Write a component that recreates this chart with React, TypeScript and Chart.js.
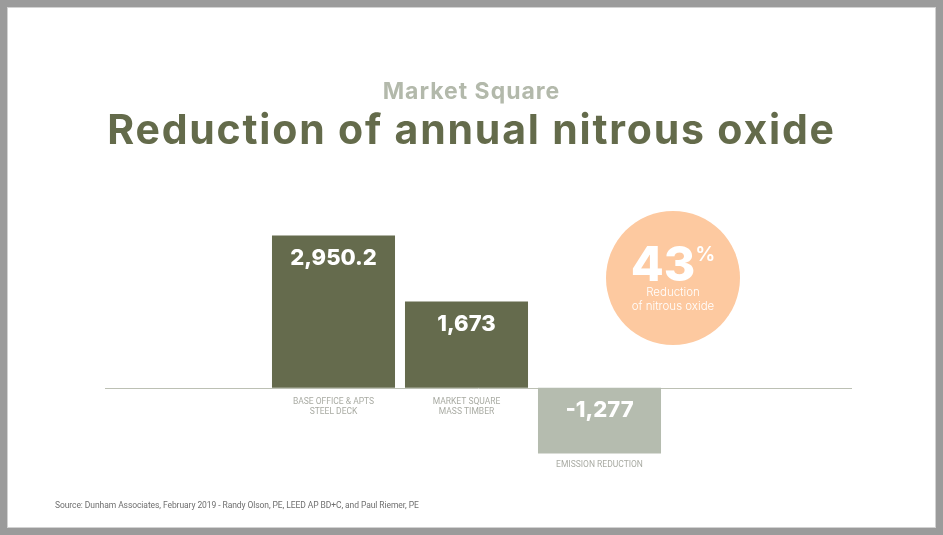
import React, { useEffect, useRef } from "react";
import { Chart, registerables } from "chart.js";

Chart.register(...registerables);

const categories: string[][] = [
  ["BASE OFFICE & APTS", "STEEL DECK"],
  ["MARKET SQUARE", "MASS TIMBER"],
  ["EMISSION REDUCTION"],
];
const values: number[] = [2950.2, 1673, -1277];
const valueLabels: string[] = ["2,950.2", "1,673", "-1,277"];
const barColors: string[] = ["#656b4d", "#656b4d", "#b5bcaf"];

const subtitleText = "Market Square";
const titleText = "Reduction of annual nitrous oxide";
const badgeValue = "43";
const badgeUnit = "%";
const badgeLines = ["Reduction", "of nitrous oxide"];
const sourceText =
  "Source: Dunham Associates, February 2019 - Randy Olson, PE, LEED AP BD+C, and Paul Riemer, PE";

const W = 943;
const H = 535;

const labelsPlugin = {
  id: "customLabels",
  beforeDatasetsDraw(chart: any) {
    const ctx = chart.ctx;
    const y0 = chart.scales.y.getPixelForValue(0);
    ctx.save();
    ctx.strokeStyle = "#bcc0b4";
    ctx.lineWidth = 1;
    ctx.beginPath();
    ctx.moveTo(105, Math.round(y0) + 0.5);
    ctx.lineTo(852, Math.round(y0) + 0.5);
    ctx.stroke();
    ctx.restore();
  },
  afterDatasetsDraw(chart: any) {
    const ctx = chart.ctx;
    const meta = chart.getDatasetMeta(0);
    ctx.save();
    meta.data.forEach((bar: any, i: number) => {
      const top = Math.min(bar.y, bar.base);
      const bottom = Math.max(bar.y, bar.base);
      ctx.fillStyle = "#ffffff";
      ctx.font = "800 22px Inter, 'Open Sans', sans-serif";
      ctx.textAlign = "center";
      ctx.textBaseline = "middle";
      ctx.fillText(valueLabels[i], bar.x, top + 23);
      ctx.fillStyle = "#a9aba3";
      ctx.font = "400 8.5px Roboto, sans-serif";
      const startY = values[i] >= 0 ? bottom + 14 : bottom + 11;
      categories[i].forEach((line, j) => {
        ctx.fillText(line, bar.x, startY + j * 10);
      });
    });
    ctx.restore();
  },
};

export default function App() {
  const canvasRef = useRef<HTMLCanvasElement | null>(null);

  useEffect(() => {
    const canvas = canvasRef.current;
    if (!canvas) return;
    const chart = new Chart(canvas, {
      type: "bar",
      data: {
        labels: categories.map((c) => c.join(" ")),
        datasets: [
          {
            data: values,
            backgroundColor: barColors,
            borderWidth: 0,
            categoryPercentage: 1,
            barPercentage: 0.925,
          },
        ],
      },
      options: {
        responsive: false,
        animation: false,
        devicePixelRatio: 1,
        layout: { padding: { left: 267, right: 277, top: 233, bottom: 70 } },
        plugins: {
          legend: { display: false },
          tooltip: { enabled: false },
          title: { display: false },
        },
        scales: {
          x: { display: false },
          y: { display: false, min: -1500, max: 3000 },
        },
      },
      plugins: [labelsPlugin],
    });
    return () => chart.destroy();
  }, []);

  return (
    <div
      style={{
        position: "fixed",
        left: 0,
        top: 0,
        width: W,
        height: H,
        background: "#ffffff",
        overflow: "hidden",
      }}
    >
      <canvas
        ref={canvasRef}
        width={W}
        height={H}
        style={{ position: "absolute", left: 0, top: 0, width: W, height: H }}
      />
      <div
        style={{
          position: "absolute",
          left: 0,
          top: 0,
          width: W,
          height: H,
          boxSizing: "border-box",
          border: "7px solid #9b9b9b",
          boxShadow: "inset 0 0 0 1px #d2d2d2",
          pointerEvents: "none",
        }}
      />
      <div
        style={{
          position: "absolute",
          left: 0,
          width: W,
          top: 76,
          textAlign: "center",
          fontFamily: "Inter, sans-serif",
          fontWeight: 700,
          fontSize: 23,
          letterSpacing: 1,
          lineHeight: "30px",
          color: "#b3b9ab",
        }}
      >
        {subtitleText}
      </div>
      <div
        style={{
          position: "absolute",
          left: 0,
          width: W,
          top: 104,
          textAlign: "center",
          fontFamily: "Inter, sans-serif",
          fontWeight: 700,
          fontSize: 41,
          letterSpacing: 1.8,
          lineHeight: "50px",
          color: "#646b4b",
        }}
      >
        {titleText}
      </div>
      <div
        style={{
          position: "absolute",
          left: 606,
          top: 211,
          width: 134,
          height: 134,
          borderRadius: "50%",
          background: "#fdc9a0",
          color: "#ffffff",
          textAlign: "center",
          fontFamily: "Inter, sans-serif",
        }}
      >
        <div
          style={{
            position: "absolute",
            left: 0,
            width: 134,
            top: 27,
            fontWeight: 800,
            fontSize: 48,
            lineHeight: "52px",
          }}
        >
          {badgeValue}
          <span style={{ fontSize: 20, fontWeight: 600, verticalAlign: "top", lineHeight: "32px" }}>
            {badgeUnit}
          </span>
        </div>
        <div
          style={{
            position: "absolute",
            left: 0,
            width: 134,
            top: 74,
            fontWeight: 300,
            fontSize: 11.5,
            lineHeight: "14px",
          }}
        >
          {badgeLines.map((l) => (
            <div key={l}>{l}</div>
          ))}
        </div>
      </div>
      <div
        style={{
          position: "absolute",
          left: 55,
          top: 499,
          fontFamily: "Roboto, sans-serif",
          fontSize: 8.5,
          letterSpacing: -0.08,
          lineHeight: "12px",
          color: "#6f6f6f",
          whiteSpace: "nowrap",
        }}
      >
        {sourceText}
      </div>
    </div>
  );
}
